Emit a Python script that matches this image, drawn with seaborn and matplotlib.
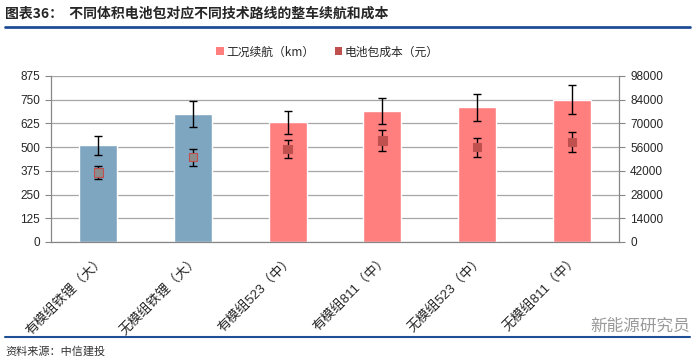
import numpy as np
import pandas as pd
import matplotlib
matplotlib.use("Agg")
import matplotlib.pyplot as plt
import seaborn as sns
from matplotlib.patches import Patch

# data
categories = ["有模组铁锂（大）", "无模组铁锂（大）", "有模组523（中）",
              "有模组811（中）", "无模组523（中）", "无模组811（中）"]
range_km = [510, 675, 630, 690, 710, 750]
range_err = [51, 67, 63, 69, 71, 75]
pack_cost = [41000, 50000, 55000, 60000, 56000, 59000]
cost_err = [4100, 5000, 5500, 6000, 5600, 5900]
left_ticks = [0, 125, 250, 375, 500, 625, 750, 875]
right_ticks = [0, 14000, 28000, 42000, 56000, 70000, 84000, 98000]

bar_colors = ["#7FA6C1", "#7FA6C1", "#FF7F7F", "#FF7F7F", "#FF7F7F", "#FF7F7F"]
marker_face = ["#8C8C8C", "#8C8C8C", "#C0504D", "#C0504D", "#C0504D", "#C0504D"]

sns.set_style("white")
plt.rcParams["font.family"] = ["Liberation Sans", "Noto Sans CJK SC", "DejaVu Sans"]

df = pd.DataFrame({"category": categories, "range": range_km, "cost": pack_cost})

fig = plt.figure(figsize=(7, 3.63), dpi=100)
ax = fig.add_axes([51 / 700, 1 - 242 / 363, 568 / 700, 166 / 363])

# bars for driving range
ax.yaxis.grid(True, color="#A6A6A6", lw=0.9, zorder=0)
ax.set_axisbelow(True)
sns.barplot(data=df, x="category", y="range", hue="category", palette=bar_colors,
            legend=False, width=0.4, errorbar=None, saturation=1, ax=ax)
ax.errorbar(np.arange(len(categories)), range_km, yerr=range_err, fmt="none",
            ecolor="black", elinewidth=1, capsize=3, capthick=1, zorder=3)

ax.set_ylim(0, 875)
ax.set_yticks(left_ticks)
ax.set_xlim(-0.5, len(categories) - 0.5)
ax.set_xlabel("")
ax.set_ylabel("")
ax.set_xticks(np.arange(len(categories)))
ax.set_xticklabels(categories, rotation=45, ha="right", rotation_mode="anchor",
                   fontsize=9.5, family=["Liberation Sans", "Noto Sans CJK SC"])
ax.set_xticks(np.arange(-0.5, len(categories)), minor=True)
ax.tick_params(axis="x", which="major", length=0, pad=8)
ax.tick_params(axis="x", which="minor", length=4, color="#868686", direction="out")
ax.tick_params(axis="y", length=4, color="#868686", direction="out", labelsize=8.5, pad=4)
for s in ["left", "bottom", "right"]:
    ax.spines[s].set_color("#868686")
ax.spines["top"].set_visible(False)

# markers for pack cost on right axis
ax2 = ax.twinx()
ax2.errorbar(np.arange(len(categories)), pack_cost, yerr=cost_err, fmt="none",
             ecolor="black", elinewidth=1, capsize=3, capthick=1, zorder=2)
sns.scatterplot(data=df, x="category", y="cost", hue="category", palette=marker_face,
                legend=False, marker="s", s=36, edgecolor="#C0504D", linewidth=0.8,
                zorder=3, ax=ax2)
ax2.set_ylim(0, 98000)
ax2.set_yticks(right_ticks)
ax2.set_ylabel("")
ax2.tick_params(axis="y", length=4, color="#868686", direction="out", labelsize=8.5, pad=4)
for s in ["left", "bottom", "right"]:
    ax2.spines[s].set_color("#868686")
ax2.spines["top"].set_visible(False)

handles = [Patch(facecolor="#FF7F7F", edgecolor="none"),
           Patch(facecolor="#C0504D", edgecolor="none")]
fig.legend(handles, ["工况续航（km）", "电池包成本（元）"], loc="center",
           bbox_to_anchor=(0.468, 0.857), ncol=2, frameon=False,
           handlelength=0.6, handleheight=0.6, handletextpad=0.2, columnspacing=1.8,
           prop={"family": ["Noto Sans CJK SC"], "size": 8.5})

# title, rules, source and watermark
fig.text(5 / 700, 1 - 14 / 363, "图表36：  不同体积电池包对应不同技术路线的整车续航和成本",
         fontsize=10, fontweight="bold", family=["Noto Sans CJK SC"], va="center")
fig.add_artist(plt.Line2D([5 / 700, 690 / 700], [1 - 27 / 363] * 2, color="#1F4E96", lw=2))
fig.add_artist(plt.Line2D([5 / 700, 690 / 700], [1 - 337 / 363] * 2, color="#1F4E96", lw=1.5))
fig.text(5 / 700, 1 - 351 / 363, "资料来源：中信建投", fontsize=8, style="italic",
         family=["Noto Sans CJK SC"], va="center", color="#333333")
fig.text(690 / 700, 1 - 326 / 363, "新能源研究员", fontsize=12, color="#9A9A9A",
         family=["Noto Sans CJK SC"], ha="right", va="center")

fig.savefig("out.png", dpi=100)
